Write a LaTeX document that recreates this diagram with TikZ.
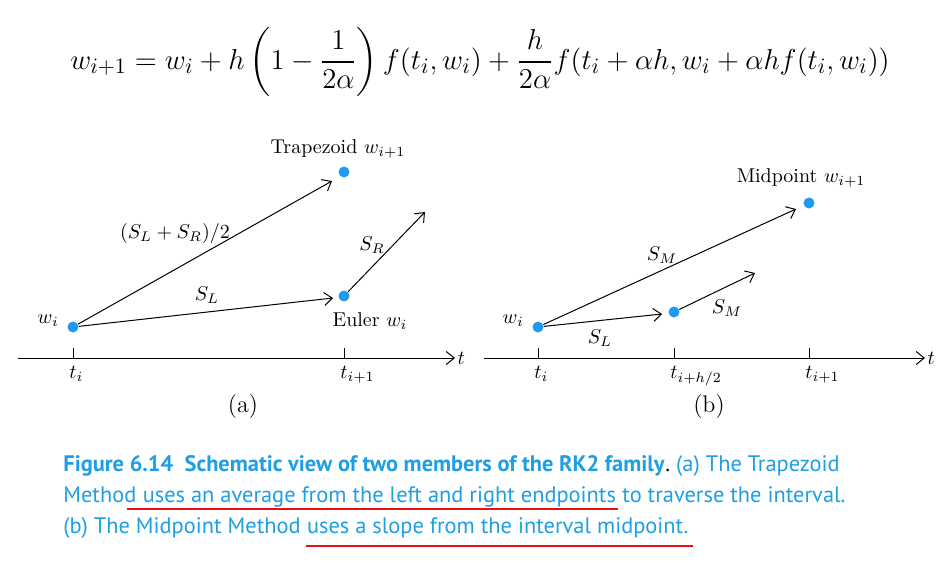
\documentclass[tikz,border=0pt]{standalone}
\usepackage{amsmath}
\usepackage{fontspec}
\newfontfamily\capfont{PT Sans}
\usetikzlibrary{arrows.meta, positioning, calc}

\definecolor{dotblue}{RGB}{30,155,240}
\definecolor{capblue}{RGB}{30,158,228}
\definecolor{ulred}{RGB}{235,15,15}

\begin{document}
\begin{tikzpicture}[
    x=0.5pt, y=-0.5pt,
    >={Straight Barb[length=4pt, width=6.5pt]},
    ptnode/.style={circle, fill=dotblue, minimum size=5.5pt, inner sep=0pt},
    slope/.style={->, line width=0.5pt},
    axisline/.style={->, line width=0.5pt},
    tickline/.style={line width=0.5pt},
    lbl/.style={inner sep=0pt, font=\fontsize{10}{12}\selectfont},
    sublbl/.style={font=\fontsize{12}{14}\selectfont},
    capline/.style={anchor=base west, inner sep=0pt, text=capblue, font=\capfont\fontsize{11.2}{13}\selectfont},
    uline/.style={ulred, line width=1.1pt}
]
\useasboundingbox (0,0) rectangle (948,568);

% Y positions
\def\yax{358}
\def\ytick{348}
\def\ytl{366}

% ---------- Formula ----------
\node[inner sep=0pt, font=\fontsize{15.1}{18}\selectfont] (eq) at (480,62)
  {$\displaystyle w_{i+1} = w_i + h\left(1-\frac{1}{2\alpha}\right) f(t_i,w_i)
    + \frac{h}{2\alpha} f(t_i+\alpha h, w_i+\alpha h f(t_i,w_i))$};

% ---------- (a) Trapezoid ----------
\coordinate (axAs) at (18,\yax);
\coordinate (axAe) at (455,\yax);
\draw[axisline] (axAs) -- (axAe) node[right=1pt, lbl] (tA) {$t$};

\foreach \x in {73,344}
    \draw[tickline] (\x,\yax) -- (\x,\ytick);

\node[lbl, anchor=north west] (tiA) at (69,\ytl) {$t_i$};
\node[lbl, anchor=north west] (tjA) at (340,\ytl) {$t_{i+1}$};

\node[ptnode] (wA) at (73,327) {};
\node[ptnode] (trA) at (344,172) {};
\node[ptnode] (euA) at (344,296) {};

\node[lbl, left=4pt of wA, yshift=3pt] (wAl) {$w_i$};
\node[lbl, above=4pt of trA, xshift=-3pt] (trAl) {Trapezoid $w_{i+1}$};
\node[lbl, below=5pt of euA, xshift=13pt] (euAl) {Euler $w_i$};

\coordinate (trAtip) at (332,181);
\coordinate (euAtip) at (333,298);
\coordinate (srAtip) at (425,212);

\draw[slope] (wA) -- (trAtip);
\draw[slope] (wA) -- (euAtip);
\draw[slope] (euA) -- (srAtip);

\node[lbl] (avgA) at (175,233) {$(S_L+S_R)/2$};
\node[lbl] (slA) at (207,295) {$S_L$};
\node[lbl] (srA) at (372,245) {$S_R$};

\node[sublbl] (capA) at (243,407) {(a)};

% ---------- (b) Midpoint ----------
\coordinate (axBs) at (484,\yax);
\coordinate (axBe) at (925,\yax);
\draw[axisline] (axBs) -- (axBe) node[right=1pt, lbl] (tB) {$t$};

\foreach \x in {538,674,809}
    \draw[tickline] (\x,\yax) -- (\x,\ytick);

\node[lbl, anchor=north west] (tiB) at (534,\ytl) {$t_i$};
\node[lbl, anchor=north west] (thB) at (670,\ytl) {$t_{i+h/2}$};
\node[lbl, anchor=north west] (tjB) at (805,\ytl) {$t_{i+1}$};

\node[ptnode] (wB) at (538,327) {};
\node[ptnode] (mdB) at (674,312) {};
\node[ptnode] (mpB) at (809,203) {};

\node[lbl, left=4pt of wB, yshift=3pt] (wBl) {$w_i$};
\node[lbl, above=5pt of mpB, xshift=-4pt] (mpBl) {Midpoint $w_{i+1}$};

\coordinate (mpBtip) at (796,209);
\coordinate (mdBtip) at (662,314);
\coordinate (smBtip) at (755,273);

\draw[slope] (wB) -- (mpBtip);
\draw[slope] (wB) -- (mdBtip);
\draw[slope] (mdB) -- (smBtip);

\node[lbl] (smB) at (662,255) {$S_M$};
\node[lbl] (slB) at (600,338) {$S_L$};
\node[lbl] (sm2B) at (727,308) {$S_M$};

\node[sublbl] (capB) at (709,407) {(b)};

% ---------- Caption ----------
\node[capline, font=\capfont\bfseries\fontsize{11.2}{13}\selectfont] (c1) at (63,471)
  {Figure 6.14\ \ Schematic view of two members of the RK2 family};
\node[capline, at=(c1.base east)] (c1b) {\textcolor{black}{.}\ (a) The Trapezoid};

\node[capline] (c2) at (63,502) {Method};
\node[capline, at=(c2.base east), xshift=0.28em] (u1) {uses an average from the left and right endpoints};
\node[capline, at=(u1.base east), xshift=0.28em] (c2b) {to traverse the interval.};

\node[capline] (c3) at (63,533) {(b) The Midpoint Method};
\node[capline, at=(c3.base east), xshift=0.28em] (u2) {uses a slope from the interval midpoint.};

\draw[uline] ($(u1.base west)+(-15,7)$) -- ($(u1.base east)+(2,7)$);
\draw[uline] ($(u2.base west)+(-1,13)$) -- ($(u2.base east)+(4,13)$);

\end{tikzpicture}
\end{document}
